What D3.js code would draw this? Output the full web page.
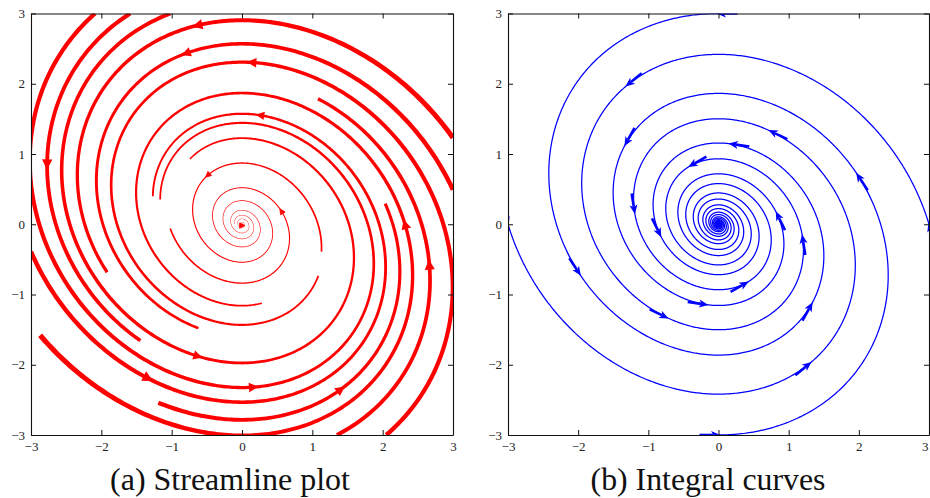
<!DOCTYPE html>
<html><head><meta charset="utf-8">
<script src="https://cdn.jsdelivr.net/npm/d3@7"></script>
<style>body{margin:0;background:#fff}</style>
</head><body>
<svg id="chart" width="930" height="498"></svg>
<script>
// vector field: dx/dt = -0.3x - y, dy/dt = x
const dxCoef = [-0.3, -1.0];
const dyCoef = [1.0, 0.0];
const ticks = [-3, -2, -1, 0, 1, 2, 3];

// (a) streamlines: upstream start and downstream end of every visible piece
const streamStarts = [[3.0, 1.23], [3.0, 0.49], [2.05, -3.0], [-2.87, -1.58], [-3.0, -0.39], [-2.09, 3.0],
  [-1.02, 3.0], [-1.59, 3.0], [-1.19, -2.54], [1.35, -3.0], [1.13, -0.39], [-1.02, -0.06]];
const streamEnds = [[-1.90, -0.69], [-0.61, -1.47], [1.06, -0.72], [0.28, -1.12], [-1.32, 0.39], [-1.15, 0.35],
  [-0.74, 0.92], [-1.43, -1.66], [2.03, 0.30], [1.085, 1.79], [-0.15, -0.01], [0.0, 0.0]];
const streamArrows = [[-2.75, 0.87], [-0.60, 2.82], [-0.79, 2.43], [0.16, 2.28], [0.28, 1.63], [-0.48, 0.70],
  [0.565, 0.18], [0.0, -0.03], [2.32, 0.0], [2.67, -0.60], [-0.64, -1.86], [-1.355, -2.17], [0.16, -2.31], [1.39, -2.37]];

// (b) integral curves: seeds, time span and arrow times
const curveSeeds = [[0, 3], [0, -3], [3, 0], [-3, 0]];
const curveDuration = 45;
const arrowTimes = [0, 2.07, 4.14, 6.21, 8.28];

const captions = ["(a) Streamline plot", "(b) Integral curves"];

const svg = d3.select("#chart");
const panels = [{x0: 31, x1: 453, cap: 230}, {x0: 508, x1: 929, cap: 708}];
const yTop = 13.5, yBot = 435;

function vel(p) { return [dxCoef[0]*p[0] + dxCoef[1]*p[1], dyCoef[0]*p[0] + dyCoef[1]*p[1]]; }
function rk4(p, h) {
  const k1 = vel(p);
  const k2 = vel([p[0] + h/2*k1[0], p[1] + h/2*k1[1]]);
  const k3 = vel([p[0] + h/2*k2[0], p[1] + h/2*k2[1]]);
  const k4 = vel([p[0] + h*k3[0], p[1] + h*k3[1]]);
  return [p[0] + h/6*(k1[0] + 2*k2[0] + 2*k3[0] + k4[0]), p[1] + h/6*(k1[1] + 2*k2[1] + 2*k3[1] + k4[1])];
}

function makePanel(i) {
  const p = panels[i];
  const x = d3.scaleLinear().domain([-3, 3]).range([p.x0, p.x1]);
  const y = d3.scaleLinear().domain([-3, 3]).range([yBot, yTop]);
  svg.append("clipPath").attr("id", "clip" + i).append("rect")
    .attr("x", p.x0).attr("y", yTop).attr("width", p.x1 - p.x0).attr("height", yBot - yTop);
  const g = svg.append("g").attr("clip-path", `url(#clip${i})`);
  return {x, y, g, p};
}

function axes(P) {
  const {x, y, p} = P;
  const fmt = d => d < 0 ? "\u2212" + Math.abs(d) : d;
  const style = s => s.attr("font-family", "'Liberation Serif', 'DejaVu Serif', serif").attr("font-size", 13)
    .call(a => a.select(".domain").attr("stroke", "#111").attr("stroke-width", 1.1))
    .call(a => a.selectAll(".tick line").attr("stroke", "#111"))
    .call(a => a.selectAll(".tick text").attr("fill", "#222"));
  const bottom = svg.append("g").attr("transform", `translate(0,${yBot})`)
    .call(d3.axisBottom(x).tickValues(ticks).tickSizeInner(-5).tickSizeOuter(0).tickPadding(7).tickFormat(fmt)).call(style);
  // keep the last label inside the page
  if (p.x1 > 920) bottom.selectAll(".tick text").filter(d => d === 3).attr("text-anchor", "end").attr("dx", -1);
  svg.append("g").attr("transform", `translate(0,${yTop})`)
    .call(d3.axisTop(x).tickValues(ticks).tickSizeInner(-5).tickSizeOuter(0).tickFormat("")).call(style);
  svg.append("g").attr("transform", `translate(${p.x0},0)`)
    .call(d3.axisLeft(y).tickValues(ticks).tickSizeInner(-5).tickSizeOuter(0).tickPadding(6).tickFormat(fmt)).call(style);
  svg.append("g").attr("transform", `translate(${p.x1},0)`)
    .call(d3.axisRight(y).tickValues(ticks).tickSizeInner(-5).tickSizeOuter(0).tickFormat("")).call(style);
}

// ---- (a) streamline plot ----
const A = makePanel(0);
const widthOf = q => 0.25 + 1.3*Math.hypot(...vel(q));
const allPts = [];
streamStarts.forEach((s, k) => {
  const e = streamEnds[k];
  const pts = [s];
  let q = s, best = 0, bestD = Infinity;
  for (let i = 1; i <= 6000; i++) {
    q = rk4(q, 0.005);
    if (i % 3 === 0) {
      pts.push(q);
      const d = Math.hypot(q[0] - e[0], q[1] - e[1]);
      if (d < bestD) { bestD = d; best = pts.length - 1; }
    }
  }
  const line = pts.slice(0, best + 1);
  line.forEach(q => allPts.push(q));
  const px = line.map(q => [A.x(q[0]), A.y(q[1])]);
  const L = [], R = [];
  for (let i = 0; i < px.length; i++) {
    const a = px[Math.max(0, i - 1)], b = px[Math.min(px.length - 1, i + 1)];
    const dx = b[0] - a[0], dy = b[1] - a[1], l = Math.hypot(dx, dy) || 1;
    const h = widthOf(line[i])/2;
    L.push([px[i][0] - dy/l*h, px[i][1] + dx/l*h]);
    R.push([px[i][0] + dy/l*h, px[i][1] - dx/l*h]);
  }
  A.g.append("path").attr("d", "M" + L.concat(R.reverse()).map(c => c[0].toFixed(2) + "," + c[1].toFixed(2)).join("L") + "Z")
    .attr("fill", "#ff0000");
});
streamArrows.forEach(a => {
  let q = allPts[0], bd = Infinity;
  allPts.forEach(c => { const d = Math.hypot(c[0] - a[0], c[1] - a[1]); if (d < bd) { bd = d; q = c; } });
  const v = vel(q), w = widthOf(q);
  let ux = v[0]*(A.x(1) - A.x(0)), uy = v[1]*(A.y(1) - A.y(0));
  const l = Math.hypot(ux, uy); ux /= l; uy /= l;
  const tip = [A.x(q[0]) + ux*3, A.y(q[1]) + uy*3], hl = 5.4, hw = 2.7;
  const tri = [tip, [tip[0] - ux*hl - uy*hw, tip[1] - uy*hl + ux*hw], [tip[0] - ux*hl + uy*hw, tip[1] - uy*hl - ux*hw]];
  A.g.append("path").attr("d", "M" + tri.map(c => c.join(",")).join("L") + "Z")
    .attr("fill", "#ff0000").attr("stroke", "#ff0000").attr("stroke-width", Math.max(0.8, w*0.8)).attr("stroke-linejoin", "miter");
});
axes(A);

// ---- (b) integral curves ----
const B = makePanel(1);
const h = 0.01;
curveSeeds.forEach(s => {
  const pts = [s];
  let q = s;
  for (let i = 1; i <= curveDuration/h; i++) { q = rk4(q, h); pts.push(q); }
  B.g.append("path").datum(pts)
    .attr("d", d3.line().x(c => B.x(c[0])).y(c => B.y(c[1])))
    .attr("fill", "none").attr("stroke", "#0000ff").attr("stroke-width", 1.25);
  arrowTimes.forEach(t => {
    const c = pts[Math.round(t/h)];
    const v = vel(c);
    let ux = v[0]*(B.x(1) - B.x(0)), uy = v[1]*(B.y(1) - B.y(0));
    const l = Math.hypot(ux, uy); ux /= l; uy /= l;
    const tip = [B.x(c[0]) + ux*2, B.y(c[1]) + uy*2], hl = 9.5, hw = 4, sl = 21;
    const base = [tip[0] - ux*hl, tip[1] - uy*hl];
    B.g.append("line").attr("x1", base[0] + ux*2).attr("y1", base[1] + uy*2)
      .attr("x2", tip[0] - ux*sl).attr("y2", tip[1] - uy*sl)
      .attr("stroke", "#0000ff").attr("stroke-width", 2.6);
    B.g.append("path")
      .attr("d", `M${tip[0]},${tip[1]}L${base[0] - uy*hw},${base[1] + ux*hw}L${base[0] + ux*2.5},${base[1] + uy*2.5}L${base[0] + uy*hw},${base[1] - ux*hw}Z`)
      .attr("fill", "#0000ff");
  });
});
axes(B);

// captions
panels.forEach((p, i) => {
  const t = svg.append("text").attr("x", p.cap).attr("y", 490).attr("text-anchor", "middle")
    .attr("font-family", "'Liberation Serif', 'DejaVu Serif', serif").attr("font-size", 26)
    .attr("fill", "#111").text(captions[i]);
  const w = t.node().getComputedTextLength();
  const target = i === 0 ? 240 : 235;
  t.attr("font-size", 26*target/w);
});
</script>
</body></html>
